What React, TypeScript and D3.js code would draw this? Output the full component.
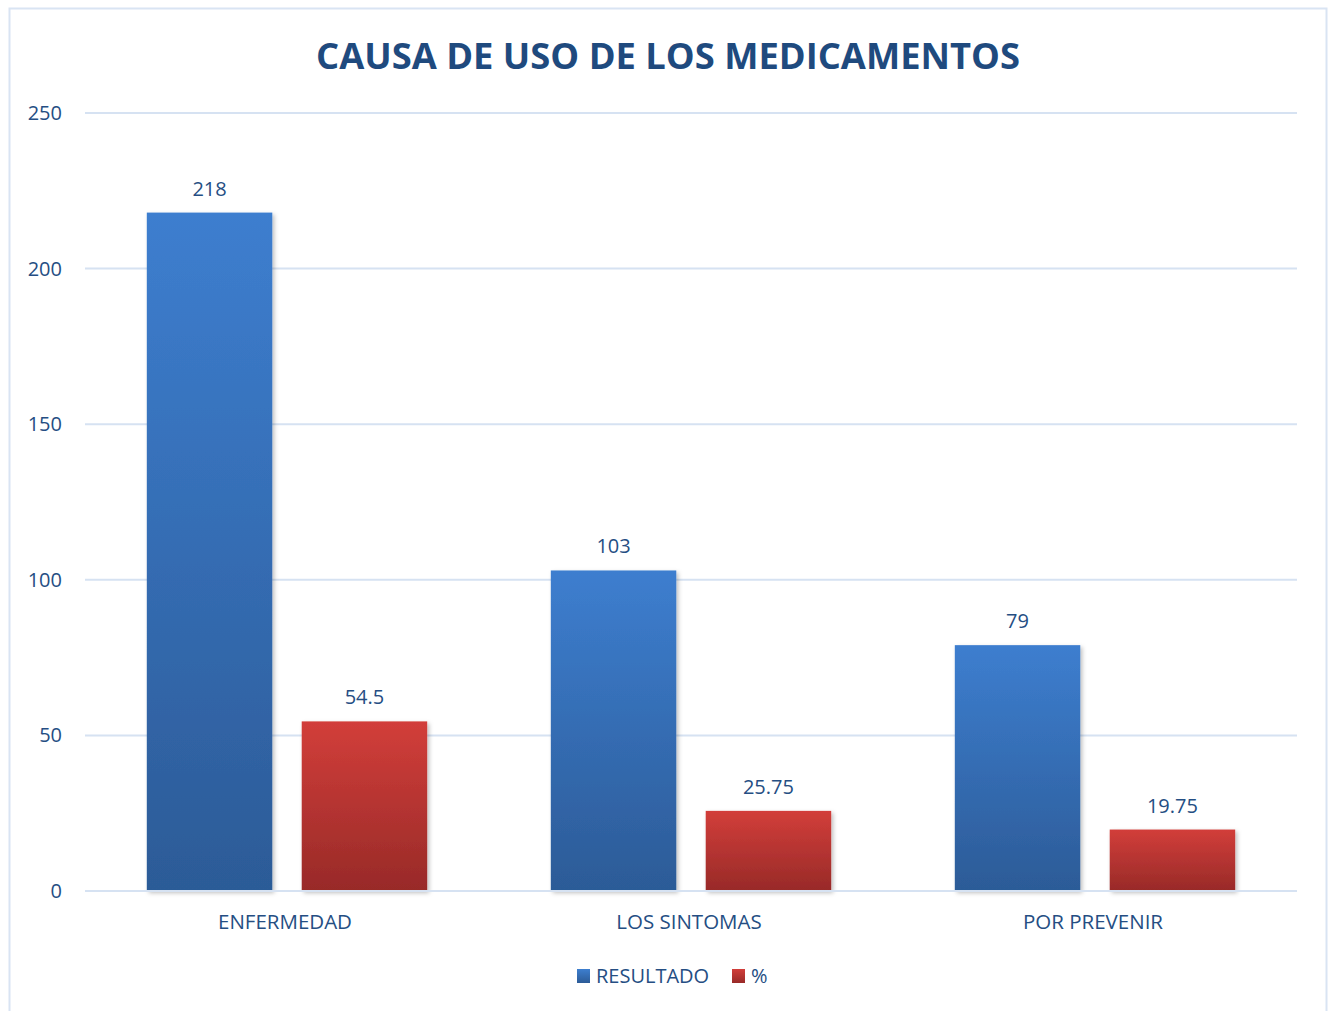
import React from 'react';
import * as d3 from 'd3';

const categories = ['ENFERMEDAD', 'LOS SINTOMAS', 'POR PREVENIR'];
const seriesNames = ['RESULTADO', '%'];
const resultado = [218, 103, 79];
const porcentaje = [54.5, 25.75, 19.75];
const yTicks = [0, 50, 100, 150, 200, 250];

const W = 1330;
const H = 1011;
const FONT = "'Open Sans', 'Noto Sans', sans-serif";
const TEXT = '#254E83';
const GRID = '#D6E2F2';

const colors = [
  { top: '#3D7ECF', bottom: '#2C5B97' },
  { top: '#D23E3A', bottom: '#982A28' },
];

const App = () => {
  const x = d3.scaleBand<string>().domain(categories).range([85, 1297]).paddingInner(0).paddingOuter(0);
  const inner = x.bandwidth();
  const xSub = d3
    .scaleBand<string>()
    .domain(seriesNames)
    .range([inner * 0.153, inner * 0.847])
    .paddingInner(0.19)
    .paddingOuter(0);
  const y = d3.scaleLinear().domain([0, 250]).range([891, 113]);

  const rows = categories.map((c, i) => ({ cat: c, values: [resultado[i], porcentaje[i]] }));

  return (
    <svg width={W} height={H} style={{ position: 'absolute', left: 0, top: 0, background: '#fff' }}>
      <defs>
        {colors.map((c, i) => (
          <linearGradient key={i} id={`grad${i}`} x1="0" y1="0" x2="0" y2="1">
            <stop offset="0%" stopColor={c.top} />
            <stop offset="100%" stopColor={c.bottom} />
          </linearGradient>
        ))}
        <filter id="shadow" x="-10%" y="-10%" width="130%" height="130%">
          <feDropShadow dx="2" dy="2" stdDeviation="2" floodColor="#000" floodOpacity="0.25" />
        </filter>
      </defs>

      <rect x={9.5} y={8.5} width={1317} height={H + 10} fill="#fff" stroke="#D9E4F3" strokeWidth={2} />

      <text
        x={668}
        y={69}
        textAnchor="middle"
        fontFamily={FONT}
        fontWeight="bold"
        fontSize={36}
        fill="#1F4A7E"
        textLength={704}
        lengthAdjust="spacingAndGlyphs"
      >
        CAUSA DE USO DE LOS MEDICAMENTOS
      </text>

      {yTicks.map((t) => (
        <g key={t}>
          <line x1={85} x2={1297} y1={y(t)} y2={y(t)} stroke={GRID} strokeWidth={2} />
          <text x={62} y={y(t)} dy="0.35em" textAnchor="end" fontFamily={FONT} fontSize={20} fill={TEXT}>
            {t}
          </text>
        </g>
      ))}

      {rows.map((r) => (
        <g key={r.cat} transform={`translate(${x(r.cat)},0)`}>
          {r.values.map((v, j) => {
            const bx = xSub(seriesNames[j]) as number;
            return (
              <g key={j}>
                <rect
                  x={bx}
                  y={y(v)}
                  width={xSub.bandwidth()}
                  height={y(0) - y(v)}
                  fill={`url(#grad${j})`}
                  filter="url(#shadow)"
                />
                <text
                  x={bx + xSub.bandwidth() / 2}
                  y={y(v) - 17}
                  textAnchor="middle"
                  fontFamily={FONT}
                  fontSize={20}
                  fill={TEXT}
                >
                  {v}
                </text>
              </g>
            );
          })}
          <text
            x={inner / 2 - 2}
            y={922}
            dy="0.35em"
            textAnchor="middle"
            fontFamily={FONT}
            fontSize={20.5}
            fill={TEXT}
          >
            {r.cat}
          </text>
        </g>
      ))}

      <line x1={85} x2={1297} y1={y(0)} y2={y(0)} stroke={GRID} strokeWidth={2} />

      <g fontFamily={FONT} fontSize={20} fill={TEXT}>
        <rect x={577} y={969} width={13} height={14} fill="url(#grad0)" />
        <text x={596} y={976} dy="0.35em">
          {seriesNames[0]}
        </text>
        <rect x={732} y={969} width={13} height={14} fill="url(#grad1)" />
        <text x={751} y={976} dy="0.35em">
          {seriesNames[1]}
        </text>
      </g>
    </svg>
  );
};

export default App;
